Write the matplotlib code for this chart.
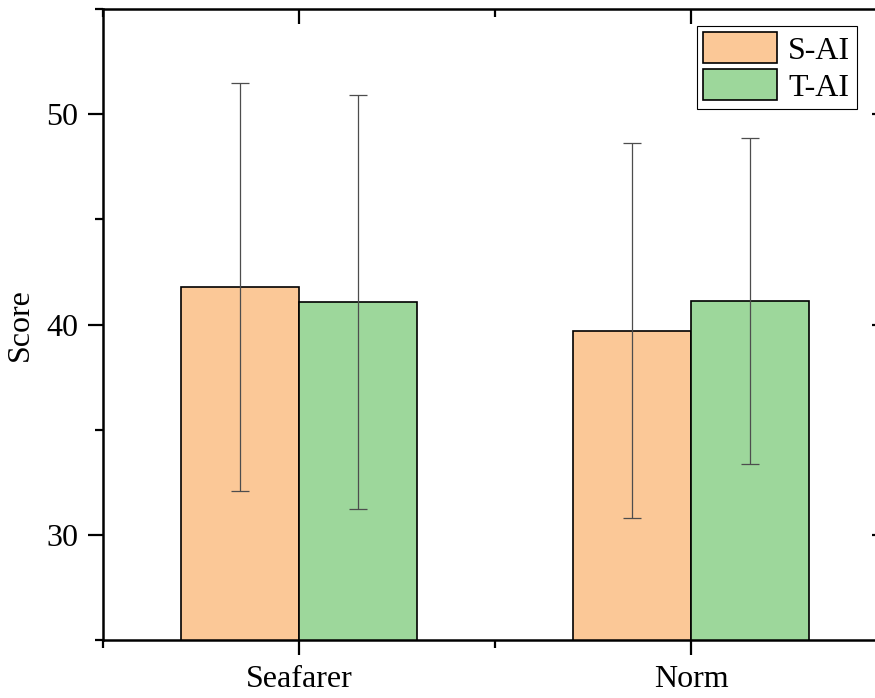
import numpy as np
import matplotlib.pyplot as plt
from matplotlib.ticker import MultipleLocator

plt.rcParams['font.family'] = ['Liberation Serif', 'DejaVu Serif']

categories = ['Seafarer', 'Norm']
s_ai_mean = [41.78, 39.71]
s_ai_sd = [9.71, 8.91]
t_ai_mean = [41.06, 41.11]
t_ai_sd = [9.85, 7.75]

fig = plt.figure(figsize=(8.75, 6.98), dpi=100)
# axes run past the right edge on purpose (reference is cropped there)
ax = fig.add_axes([103 / 875, 58 / 698, 784 / 875, 631 / 698])

x = np.arange(1, len(categories) + 1)
w = 0.3
err_kw = dict(ecolor='#4d4d4d', elinewidth=0.9, capsize=6.5, capthick=0.9)
ax.bar(x - w / 2, s_ai_mean, w, yerr=s_ai_sd, color='#FBC897', edgecolor='black',
       linewidth=1.2, label='S-AI', error_kw=err_kw, zorder=2)
ax.bar(x + w / 2, t_ai_mean, w, yerr=t_ai_sd, color='#9DD79B', edgecolor='black',
       linewidth=1.2, label='T-AI', error_kw=err_kw, zorder=2)

ax.set_xlim(0.5, 2.5)
ax.set_ylim(25, 55)
ax.set_xticks(x)
ax.set_xticklabels(categories)
ax.xaxis.set_minor_locator(MultipleLocator(0.5))
ax.yaxis.set_major_locator(MultipleLocator(10))
ax.yaxis.set_minor_locator(MultipleLocator(5))

for s in ax.spines.values():
    s.set_linewidth(1.8)

ax.tick_params(which='both', direction='out', width=1.6, labelsize=23, pad=7)
ax.tick_params(which='major', length=11)
ax.tick_params(which='minor', length=5.5)
ax.tick_params(which='both', top=True, right=True)
ax.xaxis.set_tick_params(which='both', labeltop=False)

# top and right ticks point inward
for t in ax.xaxis.get_major_ticks() + ax.xaxis.get_minor_ticks():
    t.tick2line.set_marker(3)
for t in ax.yaxis.get_major_ticks():
    t.tick2line.set_marker(0)
for t in ax.yaxis.get_minor_ticks():
    t.tick2line.set_visible(False)

ax.set_ylabel('Score', fontsize=23, labelpad=8)

leg = ax.legend(loc='upper left', bbox_to_anchor=(594 / 784, 0.973), fontsize=23,
                frameon=True, fancybox=False, edgecolor='black', framealpha=1,
                handlelength=2.3, handleheight=1.1, handletextpad=0.35,
                borderpad=0.2, labelspacing=0.12, borderaxespad=0)
leg.get_frame().set_linewidth(0.8)

fig.savefig('out.png', dpi=100)
